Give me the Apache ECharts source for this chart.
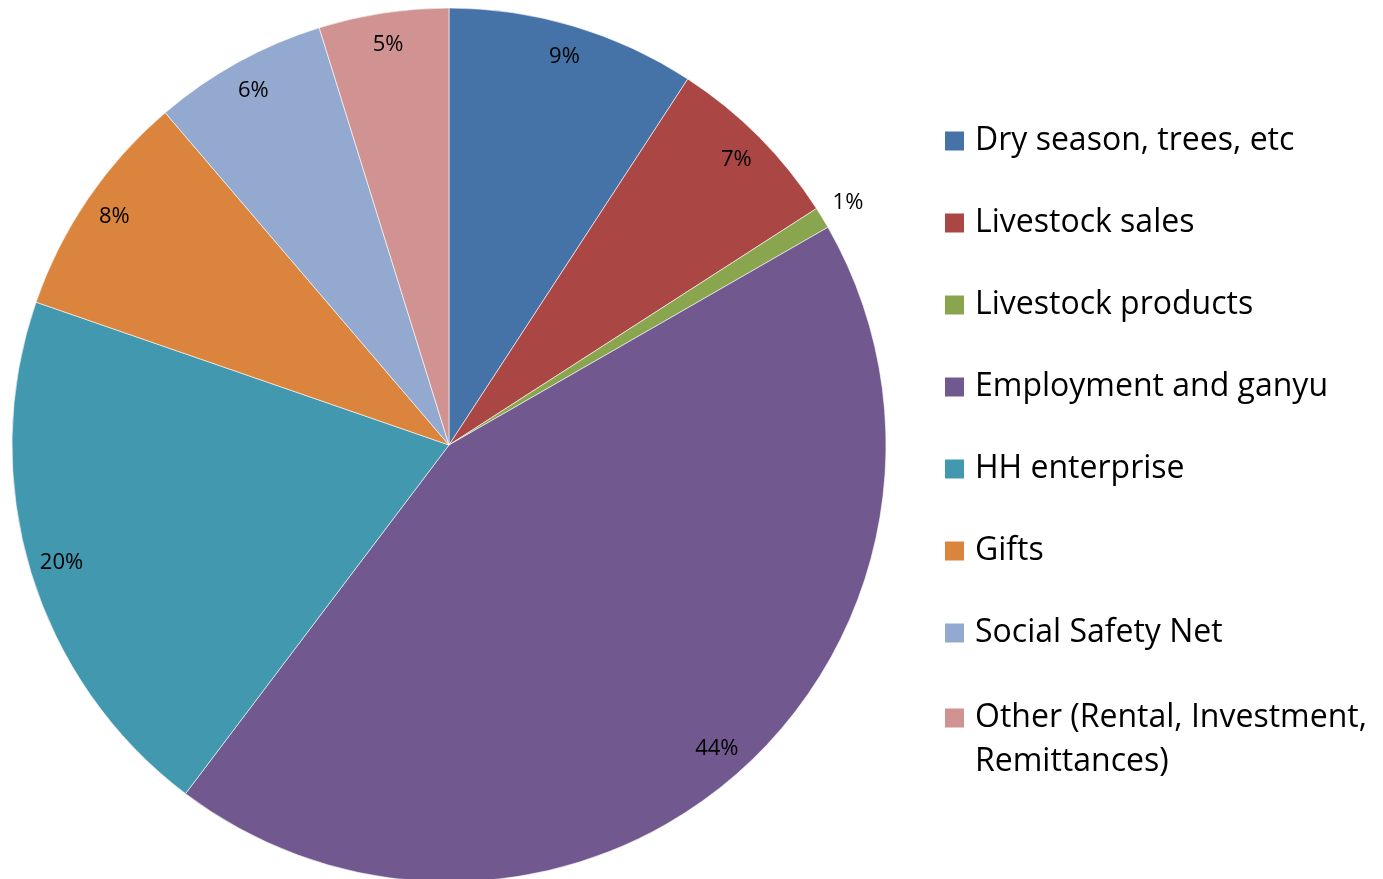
<!DOCTYPE html>
<html>
<head>
<meta charset="utf-8">
<script src="https://cdn.jsdelivr.net/npm/echarts@6/dist/echarts.min.js"></script>
<style>
html,body{margin:0;padding:0;background:#fff;}
#chart{width:1383px;height:879px;}
</style>
</head>
<body>
<div id="chart"></div>
<script>
const categories = ['Dry season, trees, etc','Livestock sales','Livestock products','Employment and ganyu','HH enterprise','Gifts','Social Safety Net','Other (Rental, Investment, Remittances)'];
const values = [9.2, 6.7, 0.8, 43.6, 20.0, 8.45, 6.45, 4.8];
const colors = ['#4572A7','#AA4643','#89A54E','#71588F','#4198AF','#DB843D','#93A9CF','#D19392'];
const legendLines = {'Other (Rental, Investment, Remittances)': ' \nOther (Rental, Investment,\nRemittances)'};
const outsideLabelNames = ['Livestock products'];

const FONT = 'Open Sans';
const CX = 449, CY = 445, R = 437;

const baseData = categories.map((c,i)=>({name:c, value:values[i], itemStyle:{color:colors[i]}}));
const labelFmt = p => Math.round(p.value) + '%';

const chart = echarts.init(document.getElementById('chart'));
const legendText = {fontFamily: FONT, fontSize: 32, color:'#000', lineHeight: 44, padding:[0,0,0,5]};
chart.setOption({
  animation:false,
  color: colors,
  legend: [{
    orient:'vertical', left:943, top:119, padding:0,
    itemWidth:21, itemHeight:21, itemGap:38, icon:'rect',
    selectedMode:false,
    data: categories.slice(0,7).map((c,i)=>({name:c, itemStyle:{color:colors[i]}})),
    textStyle: legendText
  },{
    orient:'vertical', left:943, top:652, padding:0,
    itemWidth:21, itemHeight:21, icon:'rect',
    selectedMode:false,
    data: categories.slice(7).map((c,i)=>({name:c, itemStyle:{color:colors[7+i]}})),
    formatter: n => legendLines[n] || n,
    textStyle: legendText
  }],
  series: [{
    type:'pie', center:[CX,CY], radius:[0,R], startAngle:90, clockwise:true,
    avoidLabelOverlap:false, silent:true,
    label:{show:false}, labelLine:{show:false},
    itemStyle:{borderColor:'#ffffff', borderWidth:0.6},
    data: baseData
  },{
    type:'pie', center:[CX,CY], radius:[367,R], startAngle:90, clockwise:true,
    avoidLabelOverlap:false, silent:true,
    itemStyle:{color:'rgba(0,0,0,0)'},
    label:{show:true, position:'inside', formatter:labelFmt, color:'#000', fontFamily:FONT, fontSize:22},
    labelLine:{show:false},
    data: categories.map((c,i)=>({name:c, value:values[i], label:{show: outsideLabelNames.indexOf(c)<0}}))
  },{
    type:'pie', center:[CX,CY], radius:[R,491], startAngle:90, clockwise:true,
    avoidLabelOverlap:false, silent:true,
    itemStyle:{color:'rgba(0,0,0,0)'},
    label:{show:true, position:'inside', formatter:labelFmt, color:'#000', fontFamily:FONT, fontSize:22},
    labelLine:{show:false},
    data: categories.map((c,i)=>({name:c, value:values[i], label:{show: outsideLabelNames.indexOf(c)>=0}}))
  }]
});
</script>
</body>
</html>
